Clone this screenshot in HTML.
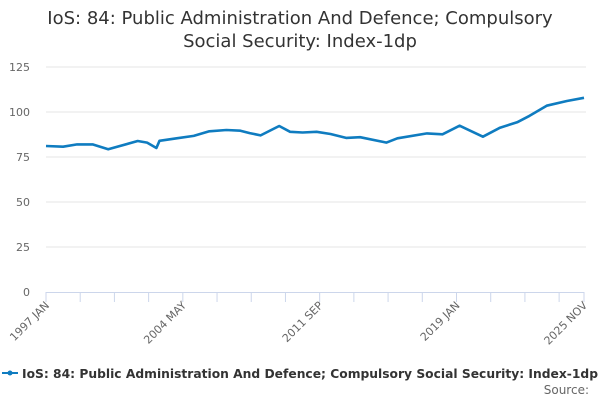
<!DOCTYPE html>
<html><head><meta charset="utf-8"><style>
body{margin:0;background:#fff;font-family:"DejaVu Sans",sans-serif}
svg{display:block;font-family:"DejaVu Sans",sans-serif}
</style></head><body>
<svg id="c" width="600" height="400">
<text x="300" y="24" text-anchor="middle" font-size="18" fill="#333">IoS: 84: Public Administration And Defence; Compulsory</text>
<text x="300" y="47" text-anchor="middle" font-size="18" fill="#333">Social Security: Index-1dp</text>
<g id="grid"></g><g id="xa"></g><g id="series"></g>
<g>
<line x1="2" y1="373" x2="18" y2="373" stroke="#0f7cc0" stroke-width="2"/>
<circle cx="10" cy="373" r="2.5" fill="#0f7cc0"/>
<text x="22" y="378" font-size="12" font-weight="bold" fill="#333" textLength="576" lengthAdjust="spacingAndGlyphs">IoS: 84: Public Administration And Defence; Compulsory Social Security: Index-1dp</text>
</g>
<text x="589" y="394" text-anchor="end" font-size="12" fill="#666">Source:</text>
</svg>
<script>
const months=[0,11,20,30,40,59,65,71,73,84,95,105,116,125,131,138,150,157,165,174,183,193,202,219,226,245,255,266,281,292,303,311,322,335,346];
const values=[81.1,80.7,82,82,79.3,83.9,83,80,84,85.4,86.7,89.3,90,89.6,88.3,87,92.2,89,88.6,89,87.8,85.6,86,83,85.4,88.1,87.6,92.4,86.3,91.3,94.3,97.9,103.5,106.1,107.9];
const yTicks=[0,25,50,75,100,125];
const xTickLabels=["1997 JAN","2004 MAY","2011 SEP","2019 JAN","2025 NOV"];
const xTickMonths=[0,88,176,264,346];
const X0=46,X1=584,Y0=292,Y1=67,NM=346,YMAX=125;
const sx=m=>X0+(X1-X0)*m/NM, sy=v=>Y0-(Y0-Y1)*v/YMAX;
const NS="http://www.w3.org/2000/svg";
function mk(t,a,p){const e=document.createElementNS(NS,t);for(const k in a)e.setAttribute(k,a[k]);p.appendChild(e);return e;}
const g=document.getElementById('grid');
yTicks.forEach(v=>{
 if(v>0){const l=mk('line',{x1:X0,x2:X1+2,y1:sy(v),y2:sy(v),stroke:'#e6e6e6'},g);
 
 }
 const t=mk('text',{x:30,y:sy(v)+4,'text-anchor':'end','font-size':11,fill:'#666'},g);t.textContent=v;
 
 
});
const xa=document.getElementById('xa');
const ax=mk('line',{x1:X0,x2:X1,y1:Y0+0.5,y2:Y0+0.5,stroke:'#ccd6eb'},xa);


for(let m=0;m<=NM;m+=22){mk('line',{x1:sx(m),x2:sx(m),y1:Y0,y2:Y0+10,stroke:'#ccd6eb'},xa);}
mk('line',{x1:sx(NM),x2:sx(NM),y1:Y0,y2:Y0+10,stroke:'#ccd6eb'},xa);
xTickLabels.forEach((s,i)=>{
 const x=sx(xTickMonths[i]);
 const t=mk('text',{x:x+4,y:Y0+14,'text-anchor':'end','font-size':11,fill:'#666',transform:`rotate(-45 ${x+4} ${Y0+14})`},xa);t.textContent=s;
 
 
});
const se=document.getElementById('series');
const p=mk('path',{d:months.map((m,i)=>(i?'L':'M')+sx(m).toFixed(1)+','+sy(values[i]).toFixed(1)).join(''),fill:'none',stroke:'#0f7cc0','stroke-width':2.6,'stroke-linejoin':'round'},se);


</script>
</body></html>
